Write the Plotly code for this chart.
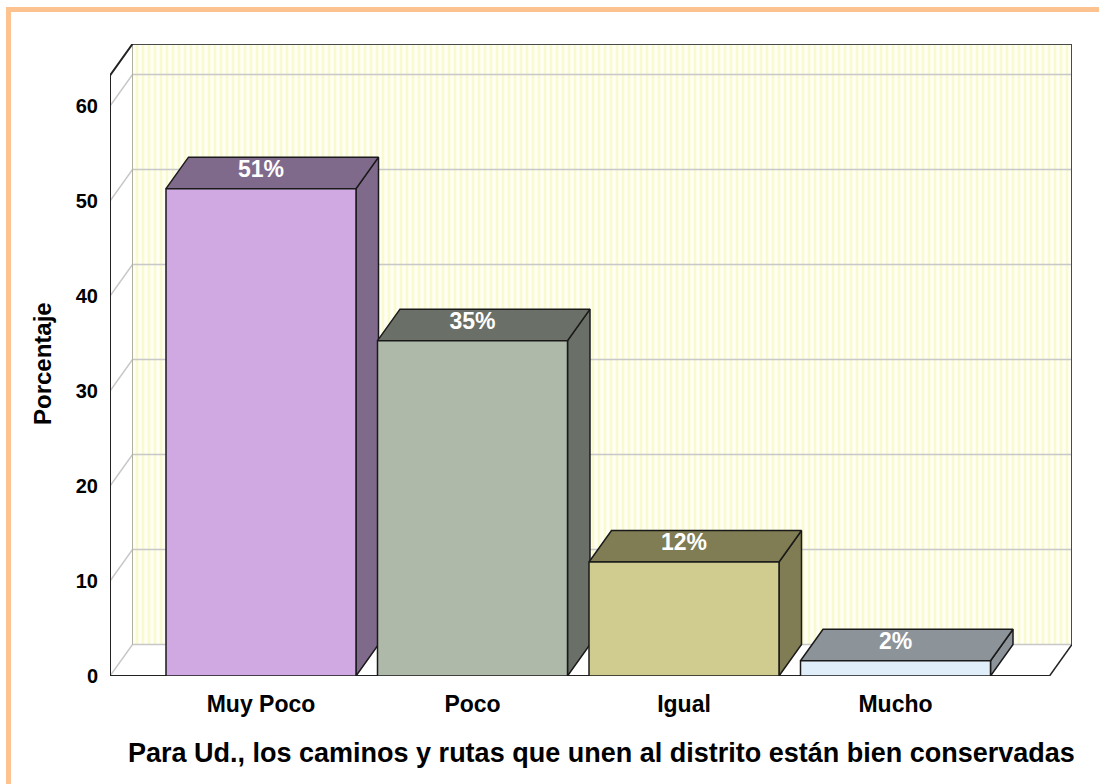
import plotly.graph_objects as go

# ---------------- data ----------------
categories = ["Muy Poco", "Poco", "Igual", "Mucho"]
percentages = [51.3, 35.3, 12.0, 1.6]
bar_labels = ["51%", "35%", "12%", "2%"]
y_ticks = [0, 10, 20, 30, 40, 50, 60]
front_colors = ["#D0A9E3", "#AFB9A9", "#D0CB8F", "#E0EEFA"]
top_colors = ["#7F6A8C", "#6A7067", "#807C54", "#8C9399"]
x_title = "Para Ud., los caminos y rutas que unen al distrito están bien conservadas"
y_title = "Porcentaje"

# ---------------- geometry (pixel layout) ----------------
W, H = 1099, 784
L, R, T, B = 110, 27, 44, 108
plot_w = W - L - R
plot_h = H - T - B
px_per_x = 211.5
px_per_y = 9.5
xmin = -151 / px_per_x
xmax = xmin + plot_w / px_per_x
ytop = plot_h / px_per_y
DX = 22.5 / px_per_x
DY = 31.5 / px_per_y
HW = 95 / px_per_x

ARIAL = "Liberation Sans, Arial, sans-serif"

fig = go.Figure()


def poly(xs, ys, fill, line_color, lw=1.5, pattern=None):
    kw = dict(x=xs + [xs[0]], y=ys + [ys[0]], mode="lines", fill="toself",
              fillcolor=fill, line=dict(color=line_color, width=lw),
              hoverinfo="skip", showlegend=False)
    if pattern is not None:
        kw["fillpattern"] = pattern
    fig.add_trace(go.Scatter(**kw))


def line(xs, ys, color, lw=1.5):
    fig.add_trace(go.Scatter(x=xs, y=ys, mode="lines", line=dict(color=color, width=lw),
                             hoverinfo="skip", showlegend=False))


# back wall (striped)
poly([xmin + DX, xmax, xmax, xmin + DX], [DY, DY, ytop, ytop], "#FFFFF2", "rgba(0,0,0,0)", 0,
     pattern=dict(shape="|", bgcolor="#FFFFF6", fgcolor="#FAFAD0", size=6, solidity=0.45,
                  fillmode="replace"))
# floor
poly([xmin, xmax - DX, xmax, xmin + DX], [0, 0, DY, DY], "#FFFFFF", "rgba(0,0,0,0)", 0)
# left wall
poly([xmin, xmin + DX, xmin + DX, xmin], [0, DY, ytop, ytop - DY], "#FFFFFF", "rgba(0,0,0,0)", 0)

# gridlines (left wall diagonal + back wall horizontal)
for v in y_ticks:
    line([xmin, xmin + DX, xmax], [v, v + DY, v + DY], "#C8C8C8", 1.5)
# back wall left edge
line([xmin + DX, xmin + DX], [DY, ytop], "#B0B0A0", 1)
# back wall top & right edges
line([xmin + DX, xmax, xmax], [ytop, ytop, DY], "#4A4A4A", 2)
# floor right diagonal & front axis lines
line([xmax - DX, xmax], [0, DY], "#222222", 1.5)
line([xmin, xmax - DX], [0, 0], "#222222", 2)
line([xmin, xmin, xmin + DX], [0, ytop - DY, ytop], "#222222", 2)

# bars
for i, v in enumerate(percentages):
    x0, x1 = i - HW, i + HW
    # side face
    poly([x1, x1 + DX, x1 + DX, x1], [0, DY, v + DY, v], top_colors[i], "#1A1A1A", 1.5)
    # top face
    poly([x0, x0 + DX, x1 + DX, x1], [v, v + DY, v + DY, v], top_colors[i], "#1A1A1A", 1.5)
    # front face
    poly([x0, x1, x1, x0], [0, 0, v, v], front_colors[i], "#1A1A1A", 1.5)

# bar value labels
fig.add_trace(go.Scatter(
    x=list(range(len(categories))),
    y=[v + DY / 2 + 0.2 for v in percentages],
    mode="text", text=bar_labels,
    textfont=dict(family=ARIAL, size=23, color="white", weight="bold"),
    hoverinfo="skip", showlegend=False))


def px_to_paper_x(px):
    return (px - L) / plot_w


def px_to_paper_y(py):
    return (H - B - py) / plot_h


fig.update_layout(
    width=W, height=H,
    margin=dict(l=L, r=R, t=T, b=B, pad=0),
    paper_bgcolor="white", plot_bgcolor="rgba(0,0,0,0)",
    xaxis=dict(range=[xmin, xmax], showgrid=False, zeroline=False, showline=False,
               tickmode="array", tickvals=list(range(len(categories))), ticktext=categories,
               tickfont=dict(family=ARIAL, size=23, color="black", weight="bold"),
               ticks="", ticklabelstandoff=12),
    yaxis=dict(range=[0, ytop], showgrid=False, zeroline=False, showline=False,
               tickmode="array", tickvals=y_ticks,
               tickfont=dict(family=ARIAL, size=20, color="black", weight="bold"),
               ticks="", ticklabelstandoff=11),
    annotations=[
        dict(text=x_title, xref="paper", yref="paper",
             x=px_to_paper_x(601), y=px_to_paper_y(753), showarrow=False,
             xanchor="center", yanchor="middle",
             font=dict(family=ARIAL, size=27, color="black", weight="bold")),
        dict(text=y_title, xref="paper", yref="paper",
             x=px_to_paper_x(42), y=px_to_paper_y(364), showarrow=False, textangle=-90,
             xanchor="center", yanchor="middle",
             font=dict(family=ARIAL, size=24, color="black", weight="bold")),
    ],
    shapes=[
        dict(type="rect", xref="paper", yref="paper",
             x0=px_to_paper_x(8.5), x1=px_to_paper_x(1110),
             y0=px_to_paper_y(9.5), y1=px_to_paper_y(800),
             line=dict(color="#FCC28F", width=5), fillcolor="rgba(0,0,0,0)", layer="below"),
    ],
)

fig.write_html("out.html", config={"displayModeBar": False},
               post_script="document.body.style.margin='0px';document.body.style.overflow='hidden';")
